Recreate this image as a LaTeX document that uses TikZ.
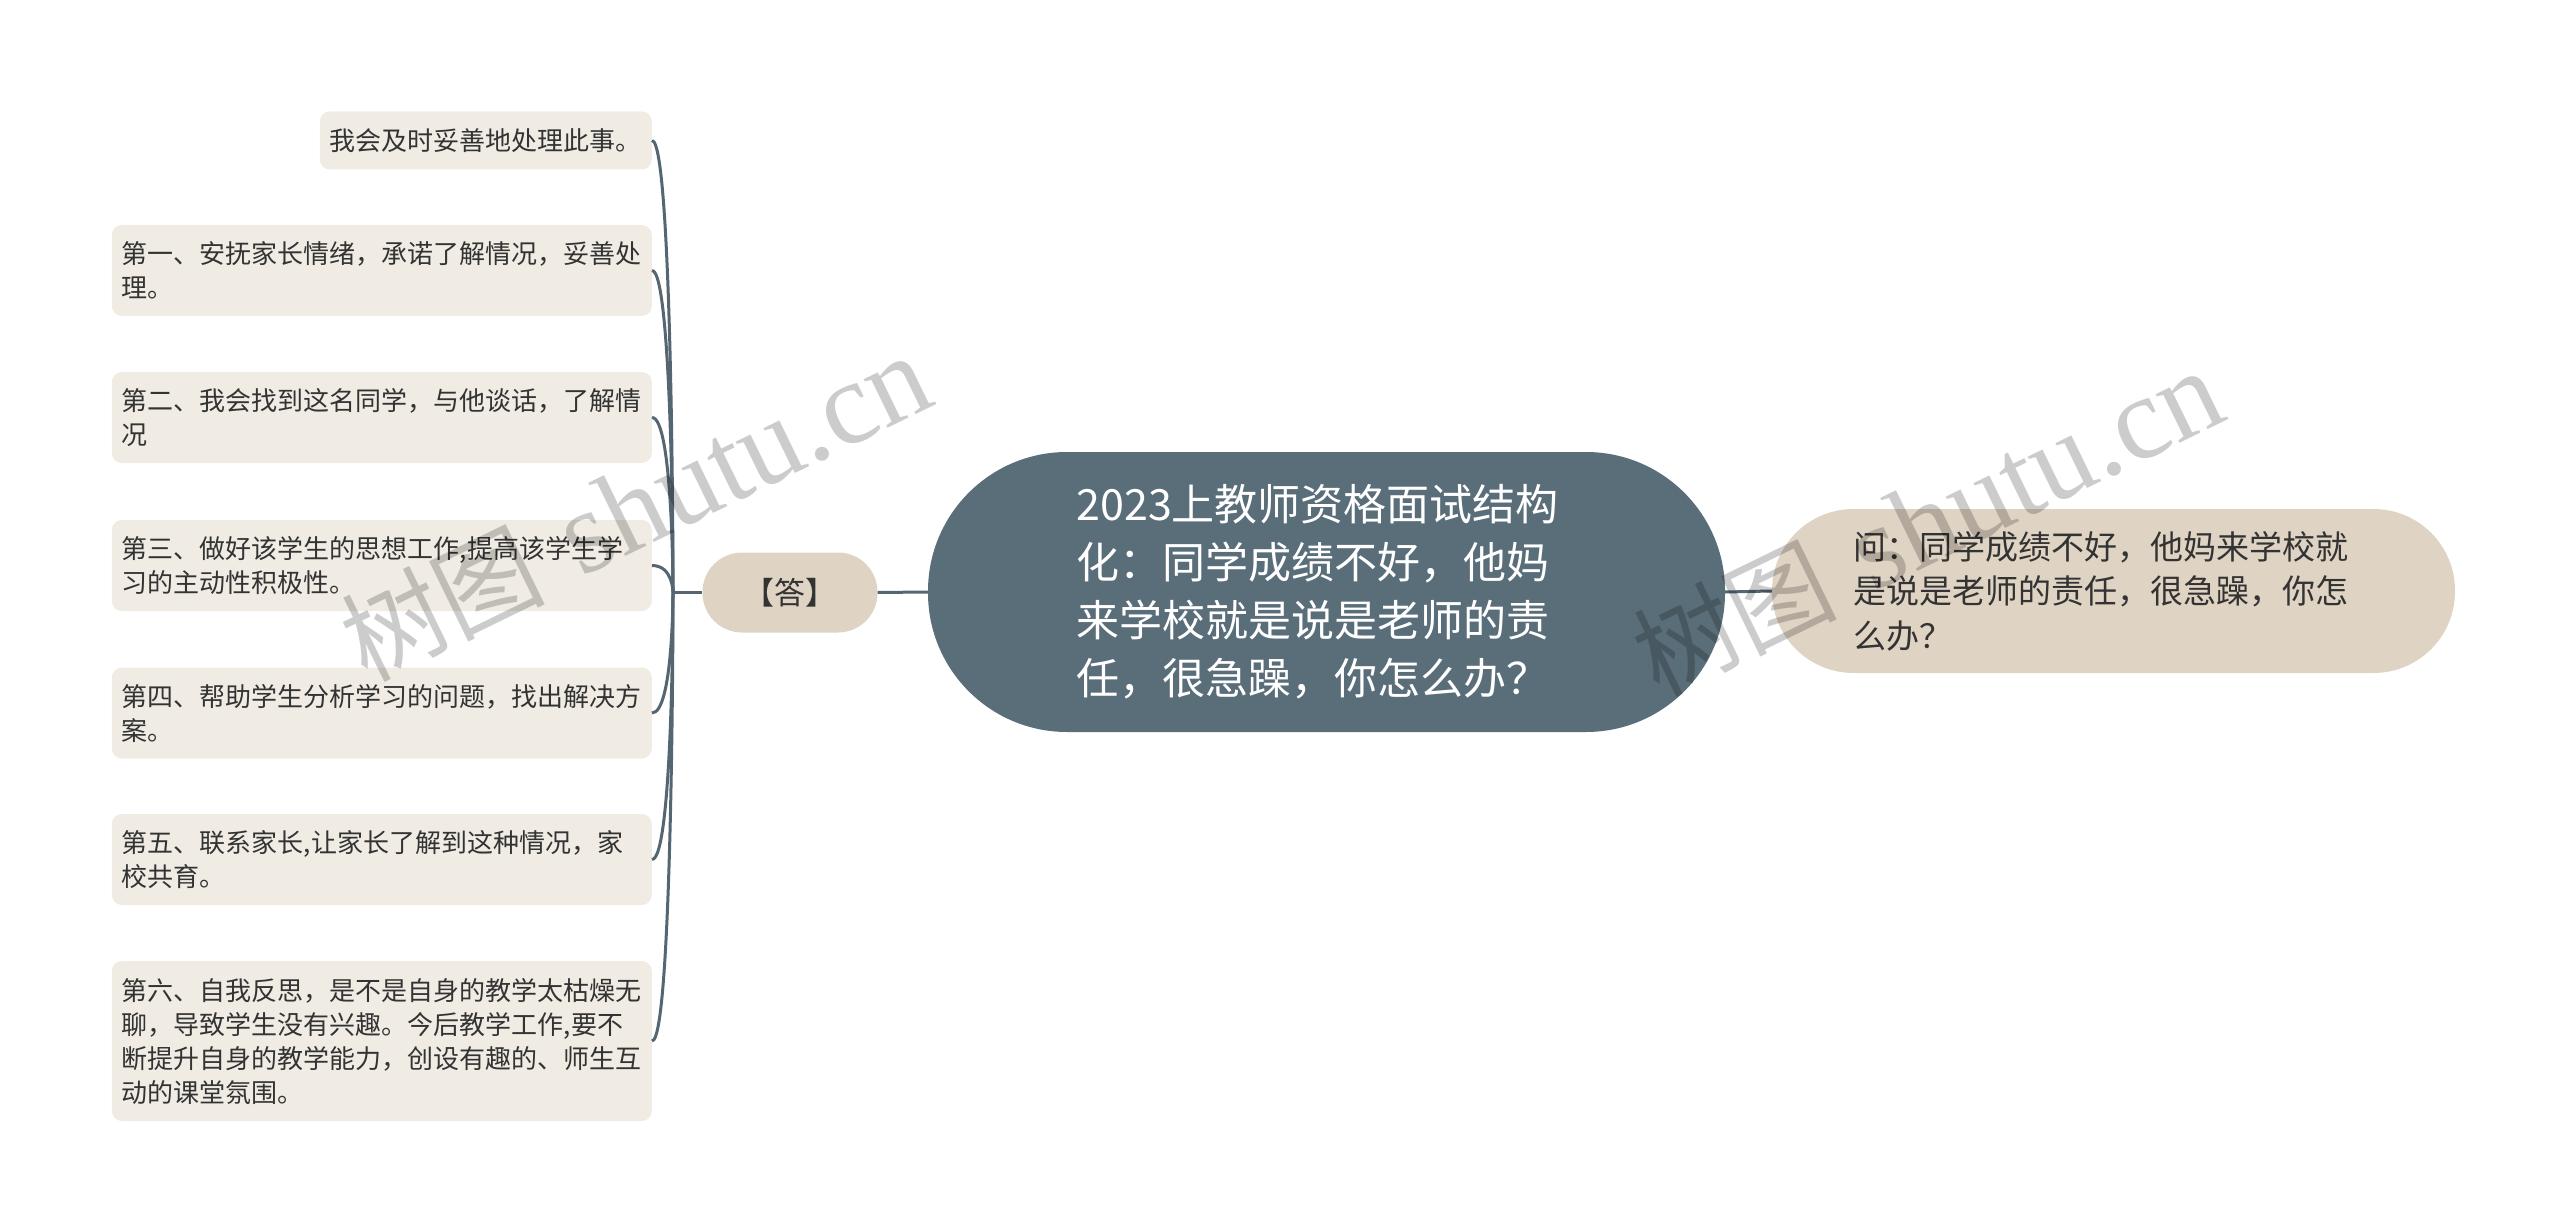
\documentclass[tikz,border=0pt]{standalone}
\usepackage{fontspec}
\usepackage{xcolor}
\usepackage{tikz}
\usetikzlibrary{positioning}
\setmainfont{Noto Sans CJK SC}
\newfontfamily\wmlatin{Liberation Serif}
\definecolor{slate}{RGB}{90,110,122}
\definecolor{linkc}{RGB}{84,102,114}
\definecolor{beige}{RGB}{223,212,195}
\definecolor{paper}{RGB}{240,236,228}
\definecolor{ink}{RGB}{51,51,51}

\tikzset{
  topic/.style={fill=slate, text=white, rounded corners=139pt, minimum width=797pt, minimum height=280pt,
    text width=500pt, align=left, inner sep=0pt, font=\fontsize{43}{58}\selectfont},
  branch/.style={fill=beige, text=ink, rounded corners=39.5pt, minimum width=175pt, minimum height=80pt,
    inner sep=0pt, font=\fontsize{31}{40}\selectfont},
  ask/.style={fill=beige, text=ink, rounded corners=81.5pt, minimum width=683pt, minimum height=164pt,
    text width=520pt, align=left, inner sep=0pt, font=\fontsize{33}{44.5}\selectfont},
  leaf/.style={fill=paper, text=ink, rounded corners=10pt, inner xsep=10pt, inner ysep=0pt,
    align=left, anchor=east, font=\fontsize{26}{34}\selectfont},
  leafwide/.style={leaf, text width=520pt, minimum height=91pt},
  link/.style={draw=linkc, line width=3pt},
  watermark/.style={rotate=26, anchor=base west, text=black, opacity=0.2, inner sep=0pt}
}
\newcommand{\wmtext}{{\fontsize{102}{102}\selectfont 树图}\hspace{36pt}{\wmlatin\fontsize{118}{118}\selectfont shutu.cn}}

\begin{document}
\begin{tikzpicture}[x=1pt, y=-1pt]
    \useasboundingbox (0,0) rectangle (2560,1230);

    % centre and the two branches
    \node[topic] (main) at (1326.5,592) {2023上教师资格面试结构\\化：同学成绩不好，他妈\\来学校就是说是老师的责\\任，很急躁，你怎么办？};
    \node[branch] (ans) at (790,592.5) {【答】};
    \node[ask] (ques) at (2113.5,591) {问：同学成绩不好，他妈来学校就\\是说是老师的责任，很急躁，你怎\\么办？};
    \coordinate (hub) at (673,592.5);

    % answers
    \node[leaf, minimum height=58pt] (r0) at (652,140.5) {我会及时妥善地处理此事。};
    \node[leafwide] (r1) at (652,270.5) {第一、安抚家长情绪，承诺了解情况，妥善处\\理。};
    \node[leafwide] (r2) at (652,417.5) {第二、我会找到这名同学，与他谈话，了解情\\况};
    \node[leafwide] (r3) at (652,565.5) {第三、做好该学生的思想工作,提高该学生学\\习的主动性积极性。};
    \node[leafwide] (r4) at (652,713) {第四、帮助学生分析学习的问题，找出解决方\\案。};
    \node[leafwide] (r5) at (652,859.5) {第五、联系家长,让家长了解到这种情况，家\\校共育。};
    \node[leafwide, minimum height=160pt] (r6) at (652,1041) {第六、自我反思，是不是自身的教学太枯燥无\\聊，导致学生没有兴趣。今后教学工作,要不\\断提升自身的教学能力，创设有趣的、师生互\\动的课堂氛围。};

    \draw[link] (main.west) -- (ans.east);
    \draw[link] (main.east) -- (ques.west);
    \draw[link] (ans.west) -- (hub);
    \foreach \r in {r0,r1,r2,r3,r4,r5,r6}
    \draw[link] (\r.east) .. controls (hub |- \r.east) and (hub) .. (hub);

    % watermarks
    \node[watermark] (wm1) at (366,683) {\wmtext};
    \node[watermark] (wm2) at (1658,698) {\wmtext};
\end{tikzpicture}
\end{document}
